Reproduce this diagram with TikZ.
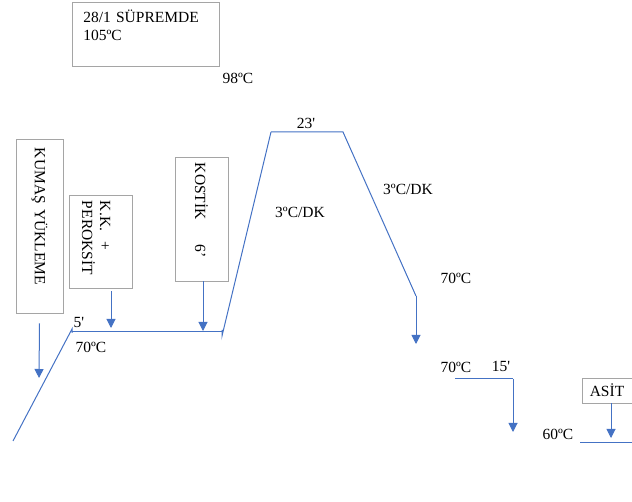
\documentclass[tikz,border=0pt]{standalone}
\usepackage{fontspec}
\setmainfont{Liberation Serif}
\usetikzlibrary{arrows.meta}
\definecolor{lineblue}{HTML}{4472C4}
\definecolor{boxgray}{HTML}{A5A5A5}

\begin{document}
\begin{tikzpicture}[x=1pt,y=-1pt,font=\fontsize{15.5}{18}\selectfont,
  box/.style={draw=boxgray,line width=0.8pt},
  curve/.style={draw=lineblue,line width=1pt},
  drop/.style={draw=lineblue,line width=1pt,-{Triangle[width=9pt,length=9pt]}},
  lbl/.style={inner sep=0pt}]
  \useasboundingbox (0,0) rectangle (632,502);

  % boxes
  \node (supreme) at (72,2) [box,anchor=north west,minimum width=147pt,minimum height=64pt,text width=125pt,inner xsep=11pt,align=left] {28/1 SÜPREMDE\\105ºC\\\mbox{}};
  \node (kumas) at (39.5,226) [box,rotate=-90,minimum width=174pt,minimum height=47pt,text width=156pt,inner xsep=9pt,align=left] {KUMAŞ YÜKLEME};
  \node (kkper) at (100.5,241.5) [box,rotate=-90,minimum width=93pt,minimum height=63pt,text width=81pt,inner xsep=6pt,align=left] {\rule{0pt}{19pt}K.K. \ +\\PEROKSİT};
  \node (kostik) at (201.5,219) [box,rotate=-90,minimum width=124pt,minimum height=53pt,text width=112pt,inner xsep=6pt,align=left] {KOSTİK\hspace{25pt}6’};
  \node (asit) at (607,390.5) [box,minimum width=50pt,minimum height=25pt,inner sep=0pt] {ASİT};

  % temperature profile
  \coordinate (p0) at (13,441);
  \coordinate (p1) at (72,332);
  \coordinate (p2) at (222,332);
  \coordinate (p3) at (271,132);
  \coordinate (p4) at (343,132);
  \coordinate (p5) at (416,296);
  \coordinate (p6) at (416,344);
  \coordinate (q0) at (455,379);
  \coordinate (q1) at (513,379);
  \coordinate (q2) at (513,432);
  \coordinate (r0) at (580,443);
  \coordinate (r1) at (632,443);
  \draw [curve] (p0) -- ([yshift=3pt]p1) -- ([yshift=-1pt]p1);
  \draw [curve] (p1) -- (p2);
  \draw [curve] ([yshift=2pt]p2) -- ([yshift=-4pt]p2) -- (p3);
  \draw [curve] (p3) -- (p4) -- (p5);
  \draw [drop] (p5) -- (p6);
  \draw [curve] (q0) -- (q1);
  \draw [drop] (q1) -- (q2);
  \draw [curve] (r0) -- (r1);

  % additions
  \coordinate (kumasin) at (39,378);
  \coordinate (kkin) at (111,328);
  \coordinate (kostin) at (203,331);
  \coordinate (asitin) at (611,438);
  \draw [drop] ([yshift=-10pt]kumas.east) -- (kumasin);
  \draw [drop] (kkper.east -| kkin) ++(0,3) -- (kkin);
  \draw [drop] (kostik.east -| kostin) -- (kostin);
  \draw [drop] (asit.south -| asitin) -- (asitin);

  % labels
  \node (t98) at (238,78) [lbl] {98ºC};
  \node (t5) at (79,323) [lbl] {5\textquotesingle};
  \node (t70a) at (91,347) [lbl] {70ºC};
  \node (t23) at (306,123) [lbl] {23\textquotesingle};
  \node (rateup) at (300,212) [lbl] {3ºC/DK};
  \node (ratedown) at (408,189) [lbl] {3ºC/DK};
  \node (t70b) at (456,278) [lbl] {70ºC};
  \node (t70c) at (456,367) [lbl] {70ºC};
  \node (t15) at (501,366) [lbl] {15\textquotesingle};
  \node (t60) at (558,434) [lbl] {60ºC};
\end{tikzpicture}
\end{document}
